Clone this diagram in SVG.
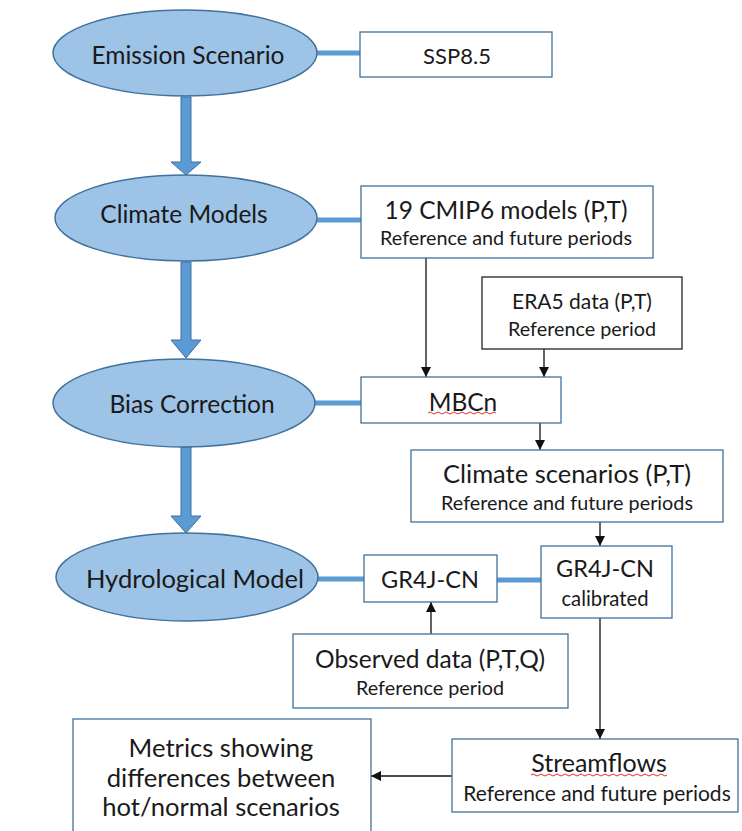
<svg xmlns="http://www.w3.org/2000/svg" width="742" height="831" viewBox="0 0 742 831">
<defs>
<style>
.ell{fill:#9dc3e6;stroke:#41719c;stroke-width:1.5}
.box{fill:#fff;stroke:#41719c;stroke-width:1.3}
.boxk{fill:#fff;stroke:#222;stroke-width:1.3}
.t{font-family:Lato,"Open Sans",sans-serif;fill:#1a1a1a;text-anchor:middle;dominant-baseline:central}
.e{font-size:24.5px}
.b{font-size:24.5px}
.s{font-size:19.8px}
.m{font-size:25.6px}
.thick{stroke:#5b9bd5;stroke-width:5;fill:none}
.big{fill:#5b9bd5;stroke:#41719c;stroke-width:1}
.thin{stroke:#111;stroke-width:1.3;fill:none;marker-end:url(#ah)}
.sq{stroke:#e03030;stroke-width:1;fill:none}
</style>
<marker id="ah" viewBox="0 0 10 10" refX="10" refY="5" markerWidth="10" markerHeight="10" markerUnits="userSpaceOnUse" orient="auto">
<path d="M0,0 L10,5 L0,10 Z" fill="#111"/>
</marker>
</defs>
<rect width="742" height="831" fill="#fff"/>
<g id="connectors">
<line class="thick" x1="316" y1="53" x2="361" y2="53"/>
<line class="thick" x1="316" y1="220" x2="361" y2="220"/>
<line class="thick" x1="314" y1="403" x2="361" y2="403"/>
<line class="thick" x1="317" y1="579" x2="364" y2="579"/>
<line class="thick" x1="497" y1="580" x2="541" y2="580"/>
<polygon class="big" points="181,97 191,97 191,162 201,162 186,175 171,162 181,162"/>
<polygon class="big" points="181,262 191,262 191,340 201,340 186,358 171,340 181,340"/>
<polygon class="big" points="181,447 191,447 191,516 201,516 186,533 171,516 181,516"/>
<line class="thin" x1="426" y1="258" x2="426" y2="377"/>
<line class="thin" x1="544" y1="349" x2="544" y2="377"/>
<line class="thin" x1="540" y1="423" x2="540" y2="450"/>
<line class="thin" x1="600" y1="522" x2="600" y2="546"/>
<line class="thin" x1="431" y1="634" x2="431" y2="602"/>
<line class="thin" x1="600" y1="618" x2="600" y2="739"/>
<line class="thin" x1="452" y1="776" x2="371" y2="776"/>
</g>
<g id="emission">
<ellipse class="ell" cx="185" cy="53" rx="132" ry="43"/>
<text class="t e" x="188" y="54">Emission Scenario</text>
</g>
<g id="ssp">
<rect class="box" x="360" y="32" width="192" height="45"/>
<text class="t" x="457" y="55" font-size="22">SSP8.5</text>
</g>
<g id="climate-models">
<ellipse class="ell" cx="186" cy="218" rx="131" ry="43"/>
<text class="t e" x="184" y="213">Climate Models</text>
</g>
<g id="cmip6">
<rect class="box" x="361" y="186" width="292" height="72"/>
<text class="t b" x="506" y="209">19 CMIP6 models (P,T)</text>
<text class="t s" x="506" y="237">Reference and future periods</text>
</g>
<g id="era5">
<rect class="boxk" x="482" y="277" width="200" height="72"/>
<text class="t" x="582" y="300" font-size="21">ERA5 data (P,T)</text>
<text class="t s" x="582" y="328">Reference period</text>
</g>
<g id="bias-correction">
<ellipse class="ell" cx="184" cy="403" rx="131" ry="44"/>
<text class="t e" x="192" y="403">Bias Correction</text>
</g>
<g id="mbcn">
<rect class="box" x="361" y="377" width="200" height="46"/>
<text class="t e" x="463" y="401">MBCn</text>
<path class="sq" d="M428,413 q2,-2 4,0 t4,0 t4,0 t4,0 t4,0 t4,0 t4,0 t4,0 t4,0 t4,0 t4,0 t4,0 t4,0 t4,0 t4,0 t4,0 t4,0"/>
</g>
<g id="climate-scenarios">
<rect class="box" x="411" y="450" width="312" height="72"/>
<text class="t" x="567" y="473" font-size="25.5">Climate scenarios (P,T)</text>
<text class="t s" x="567" y="502">Reference and future periods</text>
</g>
<g id="hydrological-model">
<ellipse class="ell" cx="187" cy="577" rx="131" ry="44"/>
<text class="t" x="195" y="578" font-size="25.5">Hydrological Model</text>
</g>
<g id="gr4j">
<rect class="box" x="364" y="555" width="133" height="47"/>
<text class="t" x="430" y="579" font-size="23.5">GR4J-CN</text>
</g>
<g id="gr4j-calibrated">
<rect class="box" x="541" y="546" width="131" height="72"/>
<text class="t" x="605" y="568" font-size="23.5">GR4J-CN</text>
<text class="t" x="605" y="598" font-size="20.3">calibrated</text>
</g>
<g id="observed">
<rect class="box" x="293" y="634" width="275" height="74"/>
<text class="t b" x="430" y="658">Observed data (P,T,Q)</text>
<text class="t s" x="430" y="687">Reference period</text>
</g>
<g id="streamflows">
<rect class="box" x="452" y="739" width="286" height="73"/>
<text class="t" x="599" y="762" font-size="25">Streamflows</text>
<path class="sq" d="M531,775 q2,-2 4,0 t4,0 t4,0 t4,0 t4,0 t4,0 t4,0 t4,0 t4,0 t4,0 t4,0 t4,0 t4,0 t4,0 t4,0 t4,0 t4,0 t4,0 t4,0 t4,0 t4,0 t4,0 t4,0 t4,0 t4,0 t4,0 t4,0 t4,0 t4,0 t4,0 t4,0 t4,0 t4,0 t4,0"/>
<text class="t" x="597" y="792" font-size="21">Reference and future periods</text>
</g>
<g id="metrics">
<rect class="box" x="73" y="719" width="298" height="130"/>
<text class="t m" x="221" y="747">Metrics showing</text>
<text class="t m" x="221" y="777">differences between</text>
<text class="t m" x="221" y="806">hot/normal scenarios</text>
</g>
</svg>
